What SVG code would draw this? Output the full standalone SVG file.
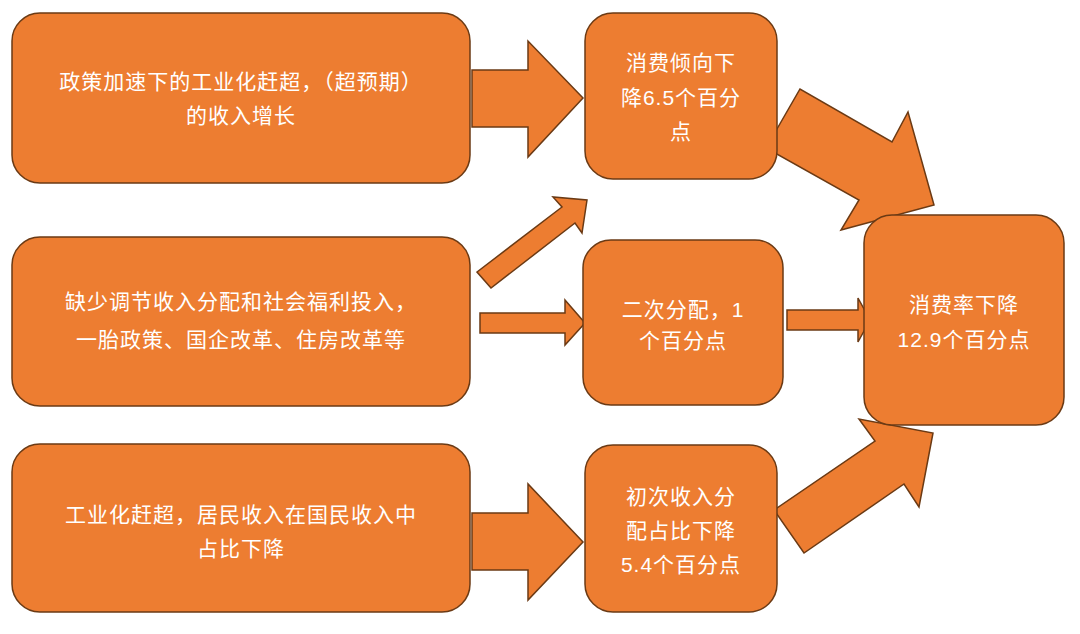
<svg xmlns="http://www.w3.org/2000/svg" width="1080" height="634" viewBox="0 0 1080 634">
<style>
.n{fill:#ED7D31;stroke:#6B3A14;stroke-width:1.5}
.a{fill:#ED7D31;stroke:#6B3A14;stroke-width:1.5;stroke-linejoin:miter}
text{fill:#fff;font-family:"Liberation Sans","Noto Sans CJK SC",sans-serif;font-size:21px;text-anchor:middle;letter-spacing:1px}
</style>
<rect width="1080" height="634" fill="#fff"/>
<g id="connectors">
<polygon class="a" points="472,70 528,70 528,41 583,98 528,157 528,127 472,127"/>
<polygon class="a" points="477,272 562,207 553,197 587,200 582,233 575,223 491,288"/>
<polygon class="a" points="480,313 565,313 565,300 585,323 565,345 565,333 480,333"/>
<polygon class="a" points="787,310 858,310 858,298 870,320 858,342 858,330 787,330"/>
<polygon class="a" points="472,513 528,513 528,484 583,542 528,600 528,570 472,570"/>
<polygon class="a" points="766,148 800,89 892,142 908,112 934,205 841,230 859,200"/>
<polygon class="a" points="774,510 875,441 859,419 933,433 919,507 904,484 804,553"/>
</g>
<g id="n1"><rect class="n" x="12" y="13" width="458" height="170" rx="28"/><text x="241" y="89">政策加速下的工业化赶超，（超预期）</text><text x="241" y="123">的收入增长</text></g>
<g id="n2"><rect class="n" x="12" y="237" width="458" height="169" rx="28"/><text x="241" y="309">缺少调节收入分配和社会福利投入，</text><text x="241" y="347">一胎政策、国企改革、住房改革等</text></g>
<g id="n3"><rect class="n" x="12" y="444" width="458" height="168" rx="28"/><text x="241" y="522">工业化赶超，居民收入在国民收入中</text><text x="241" y="556">占比下降</text></g>
<g id="n4"><rect class="n" x="585" y="13" width="192" height="166" rx="28"/><text x="681" y="70">消费倾向下</text><text x="681" y="105">降6.5个百分</text><text x="681" y="139">点</text></g>
<g id="n5"><rect class="n" x="583" y="240" width="200" height="165" rx="28"/><text x="683" y="317">二次分配，1</text><text x="683" y="348">个百分点</text></g>
<g id="n6"><rect class="n" x="585" y="445" width="192" height="167" rx="28"/><text x="681" y="504">初次收入分</text><text x="681" y="538">配占比下降</text><text x="681" y="572">5.4个百分点</text></g>
<g id="n7"><rect class="n" x="864" y="215" width="200" height="210" rx="28"/><text x="964" y="312">消费率下降</text><text x="964" y="347">12.9个百分点</text></g>
</svg>
